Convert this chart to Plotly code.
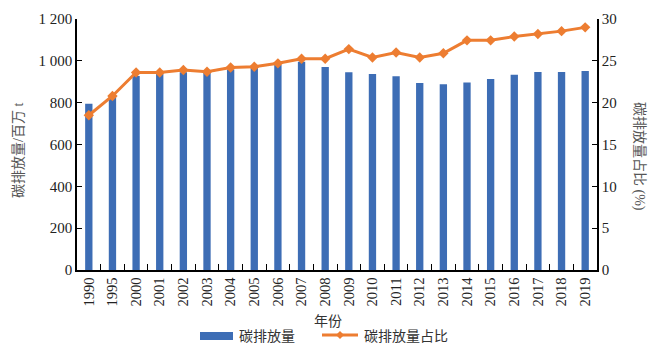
import plotly.graph_objects as go

years = ["1990", "1995"] + [str(y) for y in range(2000, 2020)]
emissions = [795, 835, 928, 937, 946, 950, 959, 967, 980, 996, 971, 945,
             937, 926, 894, 888, 897, 913, 934, 947, 947, 951]
share = [18.5, 20.8, 23.6, 23.6, 23.9, 23.7, 24.2, 24.3, 24.7, 25.25, 25.25,
         26.4, 25.4, 26.0, 25.4, 25.9, 27.45, 27.45, 27.9, 28.2, 28.55, 29.0]
left_ticks = [0, 200, 400, 600, 800, 1000, 1200]
left_ticktext = ["0", "200", "400", "600", "800", "1 000", "1 200"]
right_ticks = [0, 5, 10, 15, 20, 25, 30]

BAR = "#3D6DB5"
LINE = "#ED7D31"
FONT = "Liberation Serif, Noto Sans CJK SC, serif"

fig = go.Figure()
fig.add_trace(go.Bar(x=years, y=emissions, name="碳排放量", marker_color=BAR,
                     marker_line_width=0, yaxis="y"))
fig.add_trace(go.Scatter(x=years, y=share, name="碳排放量占比", mode="lines+markers",
                         line=dict(color=LINE, width=3),
                         marker=dict(symbol="diamond", size=8, color=LINE),
                         yaxis="y2"))

W, H = 650, 351
L, R, T, B = 77, 53, 19, 81

fig.update_layout(
    width=W, height=H,
    margin=dict(l=L, r=R, t=T, b=B),
    paper_bgcolor="white", plot_bgcolor="white",
    showlegend=False,
    bargap=0.69,
    font=dict(family=FONT, size=14, color="#222"),
    xaxis=dict(type="category", tickangle=-90, showline=True, linecolor="black",
               linewidth=1.5, ticks="inside", ticklen=6, tickcolor="black",
               tickson="boundaries", showgrid=False, tickfont=dict(size=14.5),
               range=[-0.5, 21.5]),
    yaxis=dict(range=[0, 1200], tickvals=left_ticks, ticktext=left_ticktext,
               showline=True, linecolor="black", linewidth=1.5, ticks="inside",
               ticklen=5, tickcolor="black", showgrid=False, zeroline=False,
               tickfont=dict(size=15)),
    yaxis2=dict(range=[0, 30], tickvals=right_ticks, overlaying="y", side="right",
                showline=True, linecolor="black", linewidth=1.5, ticks="inside",
                ticklen=5, tickcolor="black", showgrid=False, zeroline=False,
                tickfont=dict(size=15)),
)

def px(x):
    return (x - L) / (W - L - R)

def py(y):
    return (H - B - y) / (H - T - B)

ann = [
    dict(text="碳排放量/百万 t", x=px(18), y=py(151), textangle=-90,
         font=dict(size=14, color="#555")),
    dict(text="碳排放量占比 (%)", x=px(639), y=py(156), textangle=90,
         font=dict(size=14, color="#555")),
    dict(text="年份", x=px(328), y=py(321), font=dict(size=14, color="#333")),
    dict(text="碳排放量", x=px(237), y=py(336), xanchor="left",
         font=dict(size=14, color="#333")),
    dict(text="碳排放量占比", x=px(362), y=py(336), xanchor="left",
         font=dict(size=14, color="#333")),
]
for a in ann:
    a.update(xref="paper", yref="paper", showarrow=False)
    a.setdefault("xanchor", "center")
    a["yanchor"] = "middle"
fig.update_layout(annotations=ann)

cx, cy = px(340), py(335)
dx, dy = 4 / (W - L - R), 4 / (H - T - B)
fig.update_layout(shapes=[
    dict(type="rect", xref="paper", yref="paper", x0=px(200), x1=px(233),
         y0=py(332), y1=py(340), fillcolor=BAR, line_width=0),
    dict(type="line", xref="paper", yref="paper", x0=px(322), x1=px(358),
         y0=cy, y1=cy, line=dict(color=LINE, width=3)),
    dict(type="path", xref="paper", yref="paper",
         path=f"M {cx-dx} {cy} L {cx} {cy+dy} L {cx+dx} {cy} L {cx} {cy-dy} Z",
         fillcolor=LINE, line_width=0),
])

fig.write_html("out.html")
